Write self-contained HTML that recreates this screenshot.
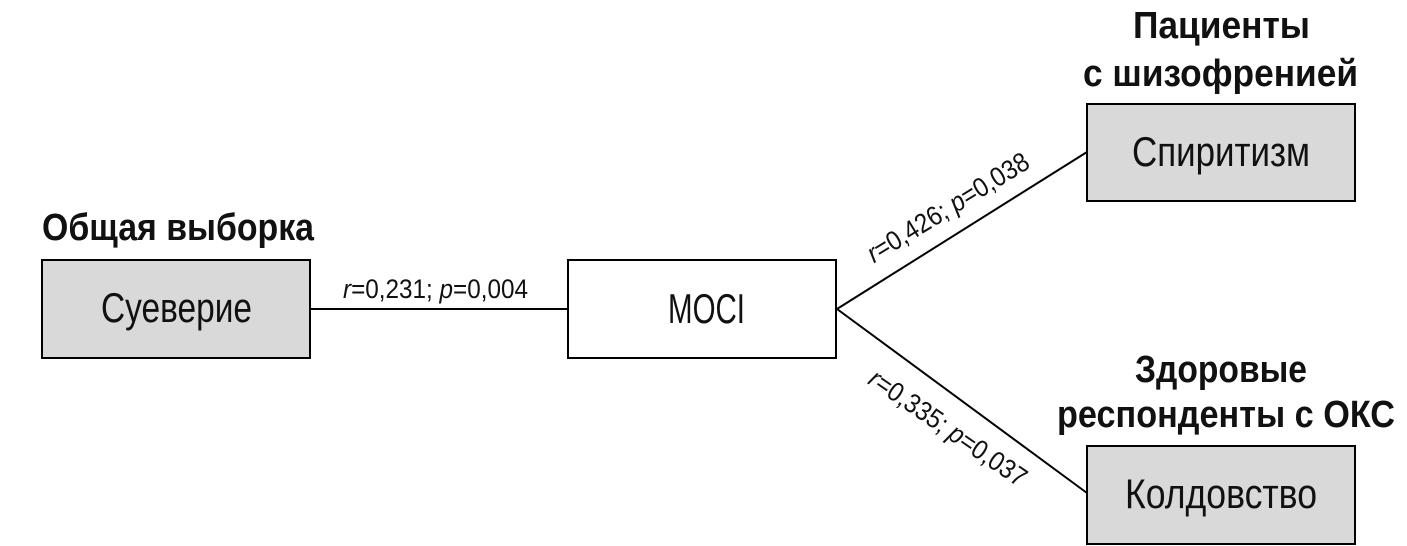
<!DOCTYPE html>
<html>
<head>
<meta charset="utf-8">
<style>
  html, body { margin: 0; padding: 0; background: #ffffff; }
  body { width: 1407px; height: 546px; overflow: hidden; }
  svg { display: block; }
  text { font-family: "Liberation Sans", "DejaVu Sans", sans-serif; fill: #111; }
  .t { font-weight: bold; font-size: 38px; }
  .l { font-size: 42px; }
  .c { font-size: 27px; }
  .i { font-style: italic; }
</style>
</head>
<body>
<svg width="1407" height="546" viewBox="0 0 1407 546" xmlns="http://www.w3.org/2000/svg">
  <!-- connectors -->
  <line x1="311" y1="309" x2="568" y2="309" stroke="#000" stroke-width="2"/>
  <line x1="837" y1="309" x2="1087" y2="152" stroke="#000" stroke-width="2"/>
  <line x1="837" y1="309" x2="1087" y2="493" stroke="#000" stroke-width="2"/>

  <!-- boxes -->
  <rect x="42" y="260" width="268" height="98" fill="#d9d9d9" stroke="#000" stroke-width="2"/>
  <rect x="568" y="260" width="268" height="98" fill="#ffffff" stroke="#000" stroke-width="2"/>
  <rect x="1087" y="104" width="268" height="97" fill="#d9d9d9" stroke="#000" stroke-width="2"/>
  <rect x="1087" y="446" width="268" height="98" fill="#d9d9d9" stroke="#000" stroke-width="2"/>

  <!-- box labels -->
  <text class="l" x="101" y="322" textLength="151" lengthAdjust="spacingAndGlyphs">Суеверие</text>
  <text class="l" x="668" y="323" textLength="77" lengthAdjust="spacingAndGlyphs">MOCI</text>
  <text class="l" x="1132" y="166" textLength="178" lengthAdjust="spacingAndGlyphs">Спиритизм</text>
  <text class="l" x="1125" y="508" textLength="192" lengthAdjust="spacingAndGlyphs">Колдовство</text>

  <!-- titles -->
  <text class="t" x="42" y="240" textLength="272" lengthAdjust="spacingAndGlyphs">Общая выборка</text>
  <text class="t" x="1133" y="38" textLength="177" lengthAdjust="spacingAndGlyphs">Пациенты</text>
  <text class="t" x="1083" y="86" textLength="275" lengthAdjust="spacingAndGlyphs">с шизофренией</text>
  <text class="t" x="1135" y="382" textLength="172" lengthAdjust="spacingAndGlyphs">Здоровые</text>
  <text class="t" x="1057" y="427" textLength="338" lengthAdjust="spacingAndGlyphs">респонденты с ОКС</text>

  <!-- connector labels -->
  <text class="c" x="343" y="298" textLength="185" lengthAdjust="spacingAndGlyphs"><tspan class="i">r</tspan>=0,231; <tspan class="i">p</tspan>=0,004</text>

  <g transform="translate(952.7,215.2) rotate(-31.5)">
    <text class="c" x="-92.5" y="0" textLength="185" lengthAdjust="spacingAndGlyphs"><tspan class="i">r</tspan>=0,426; <tspan class="i">p</tspan>=0,038</text>
  </g>

  <g transform="translate(942.9,435.4) rotate(34.5)">
    <text class="c" x="-92.5" y="0" textLength="185" lengthAdjust="spacingAndGlyphs"><tspan class="i">r</tspan>=0,335; <tspan class="i">p</tspan>=0,037</text>
  </g>
</svg>
</body>
</html>
